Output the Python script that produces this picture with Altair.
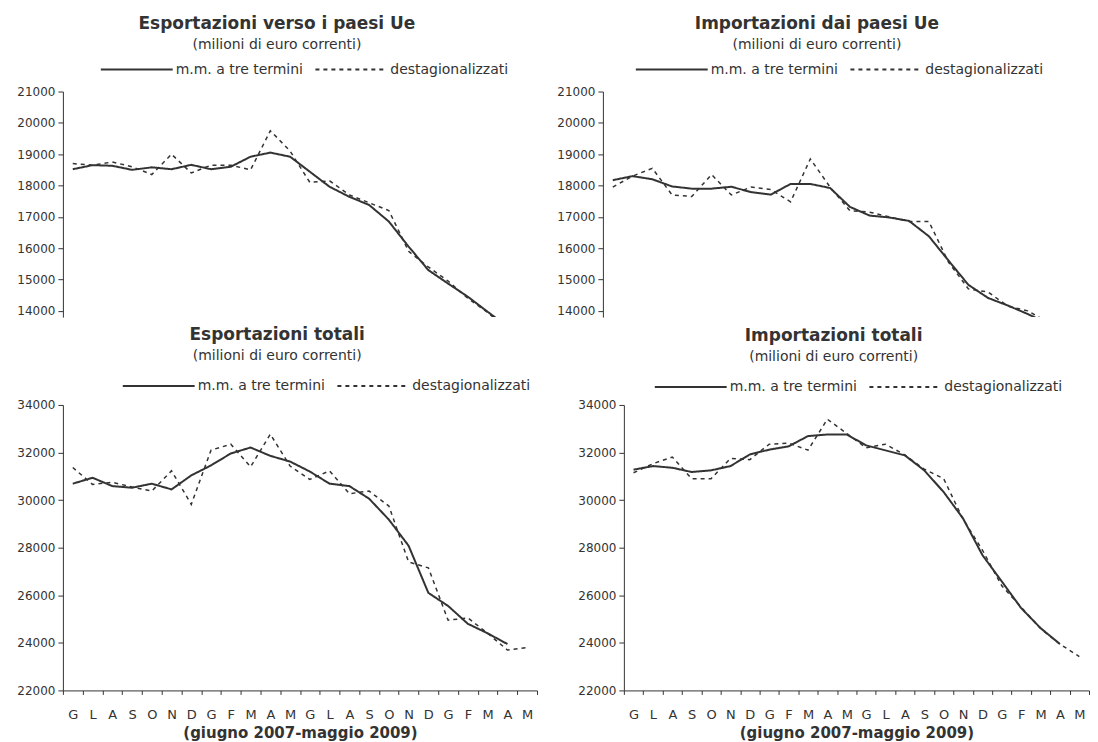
import altair as alt
import pandas as pd

# ---------------- data ----------------
etichette = ["G", "L", "A", "S", "O", "N", "D", "G", "F", "M", "A", "M",
             "G", "L", "A", "S", "O", "N", "D", "G", "F", "M", "A", "M"]
indici = list(range(24))

serie_mm = "m.m. a tre termini"
serie_dest = "destagionalizzati"

# Esportazioni verso i paesi Ue
exp_ue_mm = [18520, 18650, 18630, 18500, 18580, 18520, 18660, 18520, 18600, 18920, 19050, 18920,
             18440, 17960, 17640, 17380, 16850, 16050, 15300, 14870, 14450, 13970, 13500]
exp_ue_dest = [18700, 18650, 18750, 18600, 18350, 19000, 18400, 18650, 18650, 18500, 19750, 19100,
               18100, 18150, 17700, 17450, 17200, 15900, 15400, 14950, 14400, 13950, 13400, 13000]

# Importazioni dai paesi Ue
imp_ue_mm = [18170, 18300, 18200, 17970, 17900, 17900, 17960, 17790, 17710, 18050, 18050, 17920,
             17320, 17040, 16980, 16870, 16380, 15600, 14830, 14410, 14170, 13900, 13600]
imp_ue_dest = [17950, 18300, 18550, 17700, 17650, 18350, 17700, 17950, 17870, 17480, 18850, 17950,
               17200, 17150, 17000, 16850, 16850, 15550, 14700, 14600, 14150, 14000, 13650, 13300]

# Esportazioni totali
exp_tot_mm = [30690, 30940, 30590, 30520, 30690, 30450, 31040, 31460, 31960, 32210, 31860, 31620,
              31200, 30690, 30590, 30060, 29180, 28080, 26100, 25550, 24800, 24400, 23950]
exp_tot_dest = [31370, 30660, 30750, 30550, 30380, 31230, 29820, 32100, 32350, 31400, 32770, 31430,
                30870, 31230, 30270, 30380, 29750, 27400, 27150, 24950, 25050, 24400, 23700, 23800]

# Importazioni totali
imp_tot_mm = [31280, 31430, 31360, 31180, 31250, 31430, 31920, 32120, 32260, 32690, 32760, 32760,
              32300, 32090, 31880, 31250, 30340, 29230, 27690, 26580, 25460, 24620, 23950]
imp_tot_dest = [31150, 31530, 31810, 30900, 30900, 31750, 31700, 32350, 32400, 32100, 33400, 32800,
                32200, 32350, 31900, 31300, 30900, 29200, 27900, 26400, 25500, 24600, 23950, 23420]

sottotitolo = "(milioni di euro correnti)"
titolo_x = "(giugno 2007-maggio 2009)"

ticks_ue = [14000, 15000, 16000, 17000, 18000, 19000, 20000, 21000]
ticks_tot = [22000, 24000, 26000, 28000, 30000, 32000, 34000]

# ---------------- style ----------------
INK = "#333333"
FONT = "DejaVu Sans"
label_expr = "[" + ",".join("'" + e + "'" for e in etichette) + "][datum.value]"


def pannello(titolo, mm, dest, dominio, valori_y, altezza, larghezza, asse_x, lx, ly, off):
    rows = [{"i": i, "valore": v, "serie": serie_mm} for i, v in enumerate(mm)]
    rows += [{"i": i, "valore": v, "serie": serie_dest} for i, v in enumerate(dest)]
    df = pd.DataFrame(rows)

    if asse_x:
        x_axis = alt.Axis(labelExpr=label_expr, labelAngle=0, labelFont=FONT, labelFontSize=13,
                          labelColor=INK, tickBand="extent", tickSize=4, tickColor=INK,
                          domainColor=INK, labelPadding=14, title=titolo_x, titleFont=FONT,
                          titleFontSize=15, titleFontWeight="bold", titleColor=INK,
                          titlePadding=4)
    else:
        x_axis = None

    x = alt.X("i:O", axis=x_axis, bandPosition=0.5,
              scale=alt.Scale(type="band", domain=indici, paddingInner=0, paddingOuter=0))
    y = alt.Y("valore:Q",
              scale=alt.Scale(domain=dominio, nice=False, zero=False),
              axis=alt.Axis(values=valori_y, format="d", title=None, grid=False,
                            labelFont=FONT, labelFontSize=12, labelColor=INK,
                            tickSize=5, tickColor=INK, domainColor=INK, labelPadding=3))
    dash = alt.StrokeDash(
        "serie:N",
        scale=alt.Scale(domain=[serie_mm, serie_dest], range=[[1, 0], [4, 4]]),
        legend=alt.Legend(title=None, orient="none", legendX=lx, legendY=ly,
                          direction="horizontal", symbolType="stroke", symbolSize=5184,
                          symbolStrokeWidth=2, symbolStrokeColor=INK, clipHeight=16,
                          labelFont=FONT, labelFontSize=14, labelColor=INK, labelOffset=2,
                          columnPadding=11, padding=0),
    )
    base = alt.Chart(df).encode(x=x, y=y, strokeDash=dash)
    tratteggio = base.transform_filter(alt.datum.serie == serie_dest).mark_line(
        color=INK, strokeWidth=1.5, clip=True)
    continua = base.transform_filter(alt.datum.serie == serie_mm).mark_line(
        color=INK, strokeWidth=2, clip=True)
    return alt.layer(tratteggio, continua).properties(
        width=larghezza, height=altezza,
        title=alt.TitleParams(text=titolo, subtitle=sottotitolo, font=FONT, fontSize=17,
                              fontWeight="bold", color=INK, subtitleFont=FONT,
                              subtitleFontSize=14, subtitleColor=INK, subtitlePadding=5,
                              offset=off, anchor="middle", frame="bounds"),
    )


tl = pannello("Esportazioni verso i paesi Ue", exp_ue_mm, exp_ue_dest, [13800, 21000],
              ticks_ue, 226, 475, False, 37, -30, 9)
tr = pannello("Importazioni dai paesi Ue", imp_ue_mm, imp_ue_dest, [13800, 21000],
              ticks_ue, 226, 475, False, 32, -30, 9)
bl = pannello("Esportazioni totali", exp_tot_mm, exp_tot_dest, [22000, 34000],
              ticks_tot, 286, 475, True, 59, -27, 14)
br = pannello("Importazioni totali", imp_tot_mm, imp_tot_dest, [22000, 34000],
              ticks_tot, 286, 466, True, 30, -26, 14)

top = alt.hconcat(tl, tr, spacing=19).resolve_scale(
    y="independent", strokeDash="independent").resolve_legend(strokeDash="independent")
bottom = alt.hconcat(bl, br, spacing=39).resolve_scale(
    y="independent", strokeDash="independent").resolve_legend(strokeDash="independent")

chart = alt.vconcat(top, bottom, spacing=9).resolve_scale(
    strokeDash="independent").resolve_legend(strokeDash="independent").properties(
    padding={"left": 8, "top": 6, "right": 0, "bottom": 0}
).configure_view(stroke=None)

chart.save("out.html", embed_options={"renderer": "svg", "actions": False})
